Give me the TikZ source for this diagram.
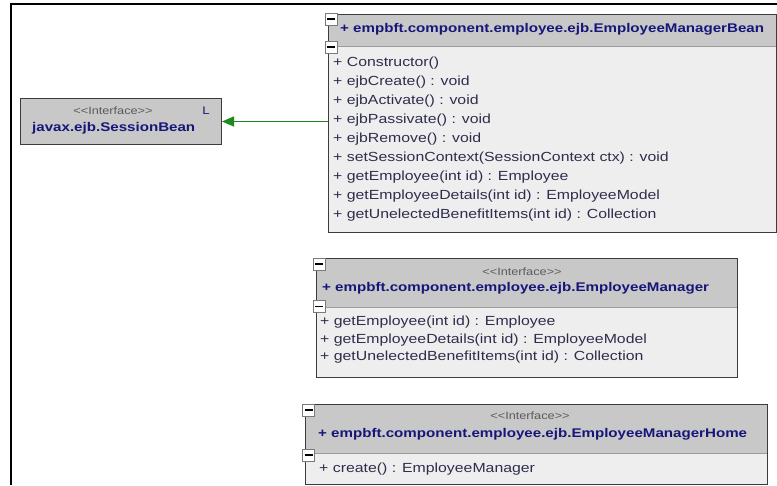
\documentclass[tikz,border=0pt]{standalone}
\usepackage{fontspec}
\newfontfamily\umlfont{Liberation Sans}[FakeStretch=1.2]
\usetikzlibrary{positioning,arrows.meta}
\definecolor{hdrgray}{HTML}{C8C8C8}
\definecolor{bodygray}{HTML}{EEEEEE}
\definecolor{boxline}{HTML}{3C3C3C}
\definecolor{sepgray}{HTML}{9C9C9C}
\definecolor{foldgray}{HTML}{7A7A7A}
\definecolor{titleblue}{HTML}{16167A}
\definecolor{optext}{HTML}{2E2E4C}
\definecolor{stereogray}{HTML}{5A5A5A}
\definecolor{implgreen}{HTML}{1E8A1E}
\begin{document}
\begin{tikzpicture}
			[x=1pt,y=-1pt,
			classbox/.style={draw=boxline,fill=bodygray,line width=1pt,
				anchor=north west,inner sep=0pt},
			hdr/.style={fill=hdrgray,anchor=north west,inner sep=0pt},
			sep/.style={sepgray,line width=1pt},
			fold/.style={draw=foldgray,fill=white,line width=0.8pt,
				minimum size=12pt,inner sep=0pt,
				path picture={\draw[black,line width=1.2pt]
					([xshift=-4pt]path picture bounding box.center) --
					([xshift=4pt]path picture bounding box.center);}},
			title/.style={anchor=west,inner sep=0pt,text=titleblue,
				font=\umlfont\bfseries\fontsize{12.6pt}{15pt}\selectfont},
			stereo/.style={inner sep=0pt,text=stereogray,
				font=\umlfont\fontsize{10.6pt}{13pt}\selectfont},
			op/.style={anchor=west,inner sep=0pt,text=optext,
				text height=10pt,text depth=3pt,
				font=\umlfont\fontsize{13.2pt}{15pt}\selectfont},
			implarrow/.style={implgreen,line width=1.4pt,
				-{Triangle[length=12pt,width=10pt]}}]
			\useasboundingbox (0,0) rectangle (777,485);
			\draw[line width=2pt] (777,4) -- (11,4) -- (11,485);

			\node[classbox,fill=hdrgray,minimum width=201pt,minimum height=46pt] (session) at (20,98) {};
			\node[stereo] (session-st) at (113,111) {<<Interface>>};
			\node[stereo,text=titleblue,font=\umlfont\fontsize{11pt}{13pt}\selectfont] (session-l) at (206,111) {L};
			\node[title] (session-name) at (32,128) {javax.ejb.SessionBean};

			\node[classbox,minimum width=448pt,minimum height=218pt] (bean) at (328,14) {};
			\node[hdr,minimum width=447pt,minimum height=31.5pt] (bean-hdr) at (328.5,14.5) {};
			\draw[sep] (bean-hdr.south west) -- (bean-hdr.south east);
			\node[fold] (bean-f1) at (331,19) {};
			\node[fold] (bean-f2) at (331,47) {};
			\node[title] (bean-name) at (340,29) {+ empbft.component.employee.ejb.EmployeeManagerBean};
			\node[op] (bean-op1) at (333,63) {+ Constructor()};
			\node[op,below=19pt of bean-op1.west,anchor=west] (bean-op2) {+ ejbCreate() : void};
			\node[op,below=19pt of bean-op2.west,anchor=west] (bean-op3) {+ ejbActivate() : void};
			\node[op,below=19pt of bean-op3.west,anchor=west] (bean-op4) {+ ejbPassivate() : void};
			\node[op,below=19pt of bean-op4.west,anchor=west] (bean-op5) {+ ejbRemove() : void};
			\node[op,below=19pt of bean-op5.west,anchor=west] (bean-op6) {+ setSessionContext(SessionContext ctx) : void};
			\node[op,below=19pt of bean-op6.west,anchor=west] (bean-op7) {+ getEmployee(int id) : Employee};
			\node[op,below=19pt of bean-op7.west,anchor=west] (bean-op8) {+ getEmployeeDetails(int id) : EmployeeModel};
			\node[op,below=19pt of bean-op8.west,anchor=west] (bean-op9) {+ getUnelectedBenefitItems(int id) : Collection};

			\draw[implarrow] (session.east -| bean.west) -- (session.east);

			\node[classbox,minimum width=421pt,minimum height=119pt] (mgr) at (316,258) {};
			\node[hdr,minimum width=420pt,minimum height=48.5pt] (mgr-hdr) at (316.5,258.5) {};
			\draw[sep] (mgr-hdr.south west) -- (mgr-hdr.south east);
			\node[fold] (mgr-f1) at (319,264) {};
			\node[fold] (mgr-f2) at (319,306.5) {};
			\node[stereo] (mgr-st) at (522,272) {<<Interface>>};
			\node[title] (mgr-name) at (322,288) {+ empbft.component.employee.ejb.EmployeeManager};
			\node[op] (mgr-op1) at (320,322) {+ getEmployee(int id) : Employee};
			\node[op,below=17.5pt of mgr-op1.west,anchor=west] (mgr-op2) {+ getEmployeeDetails(int id) : EmployeeModel};
			\node[op,below=17.5pt of mgr-op2.west,anchor=west] (mgr-op3) {+ getUnelectedBenefitItems(int id) : Collection};

			\node[classbox,minimum width=462pt,minimum height=80pt] (home) at (305,404) {};
			\node[hdr,minimum width=461pt,minimum height=48.5pt] (home-hdr) at (305.5,404.5) {};
			\draw[sep] (home-hdr.south west) -- (home-hdr.south east);
			\node[fold] (home-f1) at (308.5,410) {};
			\node[fold] (home-f2) at (308.5,455) {};
			\node[stereo] (home-st) at (530,416) {<<Interface>>};
			\node[title] (home-name) at (318,434) {+ empbft.component.employee.ejb.EmployeeManagerHome};
			\node[op] (home-op1) at (319,469) {+ create() : EmployeeManager};
\end{tikzpicture}
\end{document}
